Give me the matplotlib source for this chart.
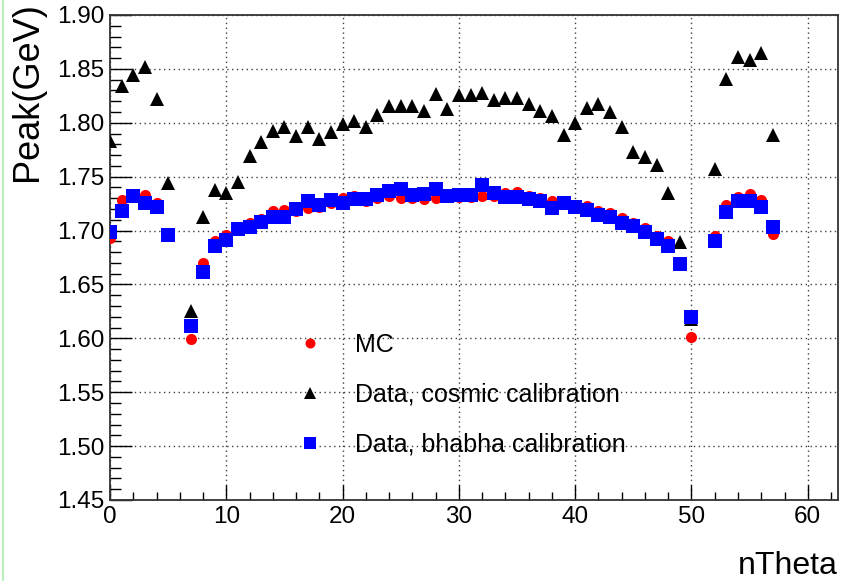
import matplotlib
matplotlib.use("Agg")
import matplotlib.pyplot as plt
from matplotlib.ticker import MultipleLocator
from matplotlib.lines import Line2D

plt.rcParams['font.family'] = ['Liberation Sans', 'DejaVu Sans']

# nTheta bins (6 and 51 are empty)
ntheta = [0, 1, 2, 3, 4, 5, 7, 8, 9, 10, 11, 12, 13, 14, 15, 16, 17, 18, 19,
          20, 21, 22, 23, 24, 25, 26, 27, 28, 29, 30, 31, 32, 33, 34, 35, 36,
          37, 38, 39, 40, 41, 42, 43, 44, 45, 46, 47, 48, 49, 50, 52, 53, 54,
          55, 56, 57]

mc = [1.693, 1.728, 1.734, 1.733, 1.726, 1.696, 1.599, 1.670, 1.690, 1.696,
      1.702, 1.707, 1.711, 1.718, 1.719, 1.718, 1.721, 1.722, 1.726,
      1.730, 1.732, 1.727, 1.730, 1.732, 1.730, 1.730, 1.729, 1.730, 1.732,
      1.731, 1.731, 1.732, 1.732, 1.735, 1.736, 1.732, 1.730, 1.727, 1.726,
      1.724, 1.723, 1.718, 1.716, 1.712, 1.707, 1.702, 1.695, 1.690, 1.668,
      1.601, 1.695, 1.724, 1.731, 1.734, 1.728, 1.697]

cosmic = [1.783, 1.834, 1.844, 1.852, 1.822, 1.744, 1.625, 1.713, 1.738, 1.735,
          1.745, 1.769, 1.782, 1.792, 1.796, 1.788, 1.796, 1.785, 1.791,
          1.799, 1.802, 1.796, 1.807, 1.816, 1.816, 1.816, 1.811, 1.827, 1.813,
          1.826, 1.826, 1.828, 1.821, 1.823, 1.823, 1.817, 1.811, 1.806, 1.789,
          1.800, 1.814, 1.817, 1.810, 1.796, 1.773, 1.768, 1.761, 1.735, 1.689,
          1.618, 1.757, 1.841, 1.861, 1.858, 1.865, 1.789]

bhabha = [1.699, 1.718, 1.732, 1.726, 1.722, 1.696, 1.611, 1.662, 1.686, 1.691,
          1.701, 1.703, 1.708, 1.713, 1.713, 1.720, 1.727, 1.724, 1.728,
          1.726, 1.729, 1.729, 1.733, 1.737, 1.739, 1.733, 1.734, 1.739, 1.732,
          1.733, 1.733, 1.742, 1.735, 1.731, 1.731, 1.729, 1.727, 1.721, 1.726,
          1.722, 1.719, 1.714, 1.713, 1.707, 1.704, 1.699, 1.692, 1.686, 1.669,
          1.620, 1.690, 1.717, 1.727, 1.727, 1.722, 1.703]

fig = plt.figure(figsize=(8.42, 5.81), dpi=100)
ax = fig.add_axes([110 / 842, 81 / 581, 728 / 842, 485 / 581])

ax.plot(ntheta, mc, 'o', color='#ff0000', markersize=8, markeredgewidth=0,
        label='MC', zorder=3)
ax.plot(ntheta, cosmic, '^', color='black', markersize=9.5, markeredgewidth=0,
        label='Data, cosmic calibration', zorder=3)
ax.plot(ntheta, bhabha, 's', color='#0000ff', markersize=9.5, markeredgewidth=0,
        label='Data, bhabha calibration', zorder=4)

ax.set_xlim(0, 62.6)
ax.set_ylim(1.45, 1.90)

ax.xaxis.set_major_locator(MultipleLocator(10))
ax.xaxis.set_minor_locator(MultipleLocator(2))
ax.yaxis.set_major_locator(MultipleLocator(0.05))
ax.yaxis.set_minor_locator(MultipleLocator(0.01))
ax.yaxis.set_major_formatter(matplotlib.ticker.FormatStrFormatter('%.2f'))

ax.tick_params(axis='both', which='both', direction='in', top=False, right=False,
               labelsize=17.5, colors='black')
ax.tick_params(axis='y', which='major', length=16, width=1, pad=4)
ax.tick_params(axis='y', which='minor', length=8, width=1)
ax.tick_params(axis='x', which='major', length=11, width=1, pad=4)
ax.tick_params(axis='x', which='minor', length=6, width=1)

ax.grid(True, which='major', linestyle=(0, (1, 2.5)), color='0.25', linewidth=1)
ax.set_axisbelow(True)
for s in ax.spines.values():
    s.set_linewidth(1.3)
    s.set_color('0.2')

ax.set_ylabel('Peak(GeV)', fontsize=26)
ax.yaxis.set_label_coords(-0.089, 1.027)
ax.yaxis.label.set_horizontalalignment('right')
ax.set_xlabel('nTheta', fontsize=23)
ax.xaxis.set_label_coords(1.0, -0.153)
ax.xaxis.label.set_horizontalalignment('right')
ax.xaxis.label.set_verticalalignment('baseline')

leg = ax.legend(loc='upper left', bbox_to_anchor=(0.2576, 0.345), frameon=False,
                fontsize=18, handlelength=1.0, handletextpad=1.3,
                labelspacing=1.04, borderpad=0, borderaxespad=0,
                markerscale=0.9)

# thin light green strip at the left edge of the screenshot
fig.add_artist(Line2D([0.003, 0.003], [0, 1], transform=fig.transFigure,
                      color='#b8f0b8', linewidth=1.5))

fig.savefig('out.png', dpi=100)
